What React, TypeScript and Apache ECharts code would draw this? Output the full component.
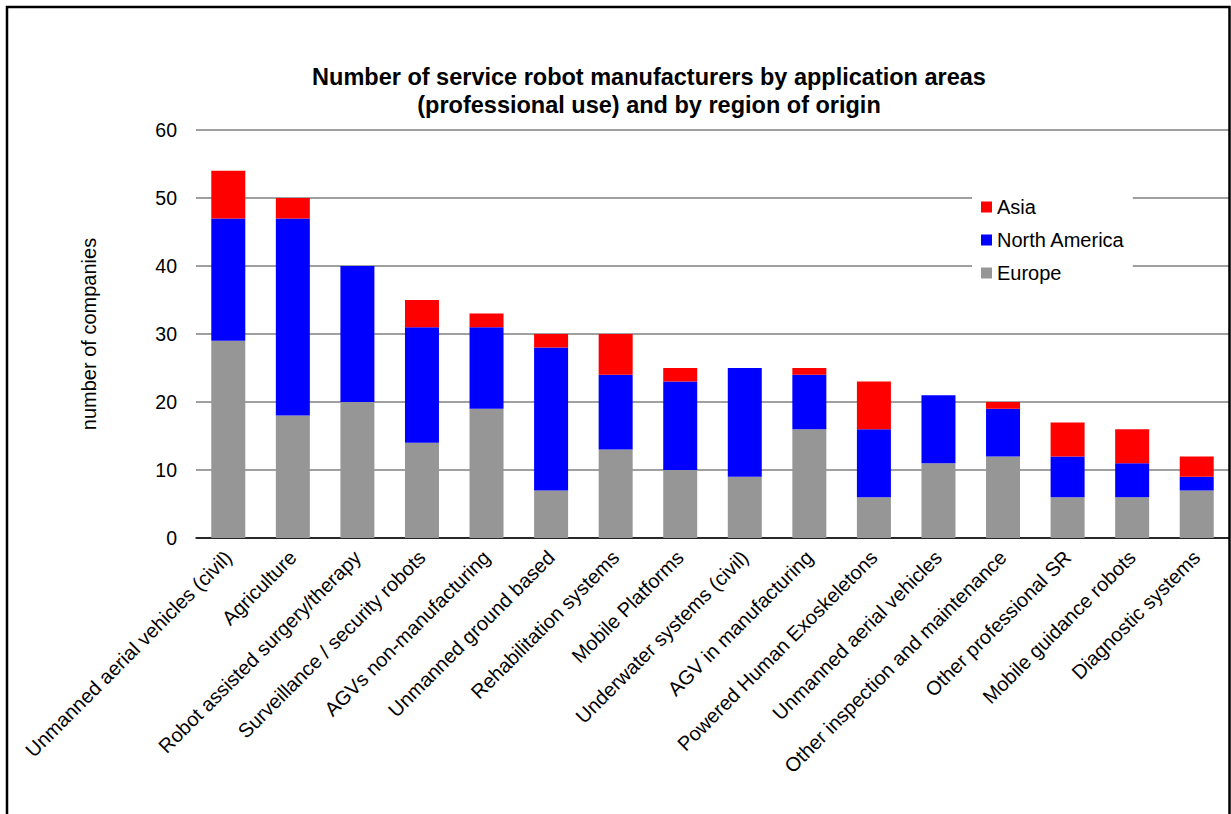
import React, { useEffect, useRef } from "react";
import * as echarts from "echarts";

const categories = [
  "Unmanned aerial vehicles (civil)",
  "Agriculture",
  "Robot assisted surgery/therapy",
  "Surveillance / security robots",
  "AGVs non-manufacturing",
  "Unmanned ground based",
  "Rehabilitation systems",
  "Mobile Platforms",
  "Underwater systems (civil)",
  "AGV in manufacturing",
  "Powered Human Exoskeletons",
  "Unmanned aerial vehicles",
  "Other inspection and maintenance",
  "Other professional SR",
  "Mobile guidance robots",
  "Diagnostic systems",
];
const europe = [29, 18, 20, 14, 19, 7, 13, 10, 9, 16, 6, 11, 12, 6, 6, 7];
const northAmerica = [18, 29, 20, 17, 12, 21, 11, 13, 16, 8, 10, 10, 7, 6, 5, 2];
const asia = [7, 3, 0, 4, 2, 2, 6, 2, 0, 1, 7, 0, 1, 5, 5, 3];

const titleText = "Number of service robot manufacturers by application areas\n(professional use) and by region of origin";
const yAxisName = "number of companies";

const FONT = "'Liberation Sans', Arial, sans-serif";

export default function App() {
  const ref = useRef<HTMLDivElement>(null);
  useEffect(() => {
    if (!ref.current) return;
    const chart = echarts.init(ref.current, null, { renderer: "svg" });
    chart.setOption({
      animation: false,
      backgroundColor: "#ffffff",
      textStyle: { fontFamily: FONT },
      title: {
        text: titleText,
        left: 644,
        top: 58,
        textAlign: "center",
        textStyle: {
          fontFamily: FONT,
          fontSize: 23.5,
          fontWeight: "bold",
          color: "#000",
          lineHeight: 28,
        },
      },
      graphic: [
        {
          type: "rect",
          shape: { x: 7, y: 7, width: 1222.5, height: 900 },
          style: { fill: "none", stroke: "#000", lineWidth: 2.5 },
          z: 100,
        },
      ],
      legend: {
        orient: "vertical",
        left: 972,
        top: 189,
        data: ["Asia", "North America", "Europe"],
        itemWidth: 11,
        itemHeight: 11,
        itemGap: 13,
        padding: [8, 8, 8, 9],
        backgroundColor: "#ffffff",
        icon: "rect",
        textStyle: { fontFamily: FONT, fontSize: 20, color: "#000" },
        z: 10,
      },
      grid: { left: 196, right: 2, top: 130, bottom: 276 },
      xAxis: {
        type: "category",
        data: categories,
        axisLine: { show: true, lineStyle: { color: "#000", width: 1.5 } },
        axisTick: { show: false },
        axisLabel: {
          rotate: 45,
          interval: 0,
          fontFamily: FONT,
          fontSize: 20,
          color: "#000",
          margin: 16,
        },
      },
      yAxis: {
        type: "value",
        min: 0,
        max: 60,
        interval: 10,
        name: yAxisName,
        nameLocation: "middle",
        nameGap: 97,
        nameTextStyle: { fontFamily: FONT, fontSize: 20, color: "#000" },
        axisLine: { show: false },
        axisTick: { show: false },
        axisLabel: { fontFamily: FONT, fontSize: 19.5, color: "#000", margin: 19 },
        splitLine: { lineStyle: { color: "#808080", width: 1.5 } },
      },
      series: [
        {
          name: "Europe",
          type: "bar",
          stack: "total",
          data: europe,
          barWidth: 34,
          itemStyle: { color: "#969696" },
        },
        {
          name: "North America",
          type: "bar",
          stack: "total",
          data: northAmerica,
          barWidth: 34,
          itemStyle: { color: "#0000ff" },
        },
        {
          name: "Asia",
          type: "bar",
          stack: "total",
          data: asia,
          barWidth: 34,
          itemStyle: { color: "#ff0000" },
        },
      ],
    });
    return () => chart.dispose();
  }, []);
  return (
    <div
      ref={ref}
      style={{ position: "fixed", left: 0, top: 0, width: 1231, height: 814 }}
    />
  );
}
